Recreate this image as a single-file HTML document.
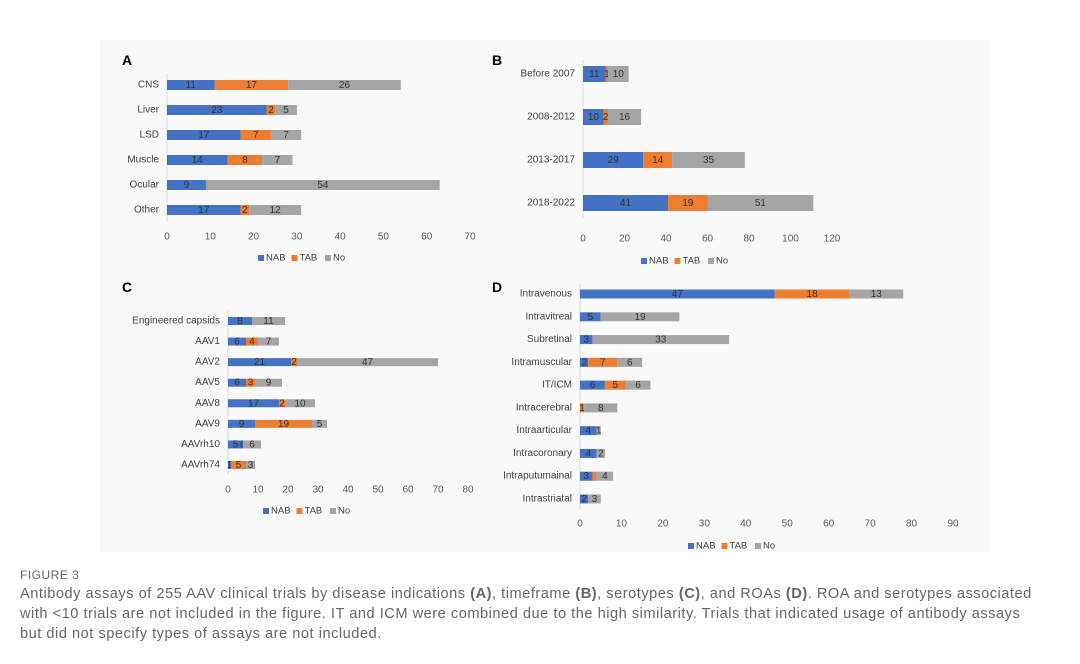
<!DOCTYPE html>
<html><head><meta charset="utf-8"><style>
body{margin:0;width:1080px;height:664px;background:#fff;font-family:"Liberation Sans",sans-serif;overflow:hidden}
#fig{position:absolute;left:100px;top:40px;width:890px;height:512px;background:#f9f9f9}
.cap{position:absolute;left:20px;color:#666;font-size:14.6px;line-height:20px;white-space:nowrap;letter-spacing:0.52px}
</style></head><body>
<div id="fig"></div>
<svg id="svg" width="1080" height="664" style="position:absolute;left:0;top:0"></svg>
<div class="cap" style="top:565px;font-size:12px;letter-spacing:0.5px">FIGURE 3</div>
<div class="cap" style="top:584px">Antibody assays of 255 AAV clinical trials by disease indications <b>(A)</b>, timeframe <b>(B)</b>, serotypes <b>(C)</b>, and ROAs <b>(D)</b>. ROA and serotypes associated<br>with &lt;10 trials are not included in the figure. IT and ICM were combined due to the high similarity. Trials that indicated usage of antibody assays<br>but did not specify types of assays are not included.</div>
<script>
const catsA=["CNS","Liver","LSD","Muscle","Ocular","Other"];
const nabA=[11,23,17,14,9,17];
const tabA=[17,2,7,8,0,2];
const noA=[26,5,7,7,54,12];
const ticksA=[0,10,20,30,40,50,60,70];
const catsB=["Before 2007","2008-2012","2013-2017","2018-2022"];
const nabB=[11,10,29,41];
const tabB=[1,2,14,19];
const noB=[10,16,35,51];
const ticksB=[0,20,40,60,80,100,120];
const catsC=["Engineered capsids","AAV1","AAV2","AAV5","AAV8","AAV9","AAVrh10","AAVrh74"];
const nabC=[8,6,21,6,17,9,5,1];
const tabC=[0,4,2,3,2,19,0,5];
const noC=[11,7,47,9,10,5,6,3];
const ticksC=[0,10,20,30,40,50,60,70,80];
const catsD=["Intravenous","Intravitreal","Subretinal","Intramuscular","IT/ICM","Intracerebral","Intraarticular","Intracoronary","Intraputumainal","Intrastriatal"];
const nabD=[47,5,3,2,6,0,4,4,3,2];
const tabD=[18,0,0,7,5,1,0,0,1,0];
const noD=[13,19,33,6,6,8,1,2,4,3];
const ticksD=[0,10,20,30,40,50,60,70,80,90];
const showZeroC=[false,false,false,false,false,false,true,false];

const NS="http://www.w3.org/2000/svg";
const svg=document.getElementById('svg');
const COL=["#4472C4","#ED7D31","#A5A5A5"];
function mk(tag,attrs,parent){const e=document.createElementNS(NS,tag);for(const k in attrs)e.setAttribute(k,attrs[k]);(parent||svg).appendChild(e);return e;}
function txt(x,y,s,size,anchor,fill,parent,weight){const t=mk('text',{x:x,y:y,'font-size':size,'text-anchor':anchor,fill:fill,'font-family':'Liberation Sans, sans-serif','dominant-baseline':'central'},parent);if(weight)t.setAttribute('font-weight',weight);t.textContent=s;return t;}
function chart(o){
  const g=mk('g',{});
  
  
  const max=o.ticks[o.ticks.length-1];
  const X=v=>o.x0+(v/max)*(o.x1-o.x0);
  const Y=i=>o.y0+i*(o.y1-o.y0)/(o.cats.length-1);
  const pl=txt(o.lx,o.ly,o.letter,14,'middle','#000',g,'bold');
  
  
  const ax=mk('line',{x1:o.x0,x2:o.x0,y1:o.ay0,y2:o.ay1,stroke:'#d9d9d9','stroke-width':1},g);
  
  
  o.ticks.forEach(t=>{const e=txt(X(t),o.ty,String(t),10,'middle','#595959',g);
    
    });
  o.cats.forEach((c,i)=>{
    const y=Y(i);
    const cl=txt(o.x0-8,y,c,10,'end','#404040',g);
    
    
    let acc=0;
    [o.nab[i],o.tab[i],o.no[i]].forEach((v,s)=>{
      const r=mk('rect',{x:X(acc),y:y-o.bh/2,width:Math.max(0,X(acc+v)-X(acc)),height:o.bh,fill:COL[s]},g);
      
      
      const showLbl=v>0&&!(o.hideSmallTab&&s===1&&v===1&&o.nab[i]>0&&o.cats[i]==="Intraputumainal");
      if(showLbl||(o.zero&&o.zero[i]&&v===0)){
        const l=txt((X(acc)+X(acc+v))/2,y+0.5,String(v),10,'middle','#333',g);
        
        
      }
      acc+=v;
    });
  });
  const names=["NAB","TAB","No"];
  let lx=o.legx;
  names.forEach((n,s)=>{
    const r=mk('rect',{x:lx,y:o.legy-3,width:6,height:6,fill:COL[s]},g);
    
    
    const t=txt(lx+8,o.legy,n,9.5,'start','#404040',g);
    
    
    lx+=8+n.length*6.5+6;
  });
}
chart({name:'chart-a-indications',letter:'A',lx:127,ly:60,cats:catsA,nab:nabA,tab:tabA,no:noA,ticks:ticksA,x0:167,x1:470,y0:85,y1:210,bh:10,ay0:73,ay1:222,ty:237,legx:258,legy:258});
chart({name:'chart-b-timeframe',letter:'B',lx:497,ly:60,cats:catsB,nab:nabB,tab:tabB,no:noB,ticks:ticksB,x0:583,x1:832,y0:74,y1:203,bh:16,ay0:60,ay1:218,ty:239,legx:641,legy:261});
chart({name:'chart-c-serotypes',letter:'C',lx:127,ly:287,cats:catsC,nab:nabC,tab:tabC,no:noC,ticks:ticksC,x0:228,x1:468,y0:321,y1:465,bh:8,ay0:311,ay1:475,ty:490,legx:263,legy:511,zero:showZeroC});
chart({name:'chart-d-roas',letter:'D',lx:497,ly:287,cats:catsD,nab:nabD,tab:tabD,no:noD,ticks:ticksD,x0:580,x1:953,y0:294,y1:499,bh:9,ay0:284,ay1:510,ty:524,legx:688,legy:546,hideSmallTab:true});
</script>
</body></html>
